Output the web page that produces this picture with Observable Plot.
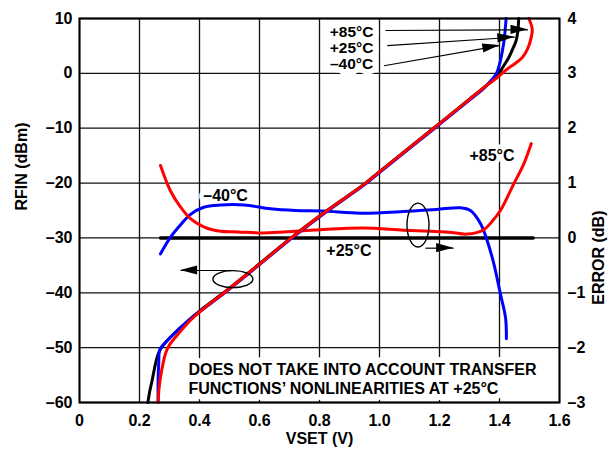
<!DOCTYPE html>
<html><head><meta charset="utf-8">
<script src="https://cdn.jsdelivr.net/npm/d3@7"></script>
<script src="https://cdn.jsdelivr.net/npm/@observablehq/plot@0.6"></script>
<style>
html,body{margin:0;padding:0;background:#fff;}
#chart svg{display:block;}
</style></head><body><div id="chart"></div>
<script>
// ---- axes / ticks ----
const vsetTicks = [0, 0.2, 0.4, 0.6, 0.8, 1.0, 1.2, 1.4, 1.6];
const rfinTicks = [-60, -50, -40, -30, -20, -10, 0, 10];
const errTicks  = [-3, -2, -1, 0, 1, 2, 3, 4];

// ---- RFIN vs VSET (left axis, dBm) ----
const vsetP25 = [0.228, 0.234, 0.242, 0.253, 0.262, 0.275, 0.303, 0.36, 0.41, 0.48, 0.6, 0.705, 0.8, 0.953, 1.0, 1.18, 1.3, 1.35, 1.38, 1.398, 1.412, 1.43, 1.442, 1.455, 1.461, 1.464];
const rfinP25 = [-60, -58, -56, -53, -51.2, -49.8, -48.1, -45.2, -42.9, -40, -34.7, -30, -26, -20, -17.9, -10, -4.7, -2.5, -1.1, 0, 1.2, 2.8, 4.2, 5.9, 7.6, 10];

const vsetM40 = [0.262, 0.262, 0.264, 0.268, 0.285, 0.303, 0.36, 0.414, 0.484, 0.604, 0.709, 0.804, 0.957, 1.004, 1.184, 1.304, 1.352, 1.372, 1.39, 1.403, 1.41, 1.416, 1.422];
const rfinM40 = [-60, -56, -53, -50.3, -49.2, -48.1, -45.2, -42.9, -40, -34.7, -30, -26, -20, -17.9, -10, -4.7, -2.5, -1.3, 0, 2.3, 4.2, 6.3, 10];

const vsetP85 = [0.262, 0.265, 0.27, 0.278, 0.287, 0.3, 0.32, 0.37, 0.42, 0.482, 0.602, 0.706, 0.801, 0.954, 1.001, 1.181, 1.301, 1.352, 1.385, 1.409, 1.426, 1.452, 1.476, 1.494, 1.506, 1.509, 1.498];
const rfinP85 = [-60, -57.5, -55.4, -53, -51, -49.5, -48.1, -45, -42.6, -40, -34.7, -30, -26, -20, -17.9, -10, -4.7, -2.4, -1.1, 0, 0.8, 1.8, 2.9, 4.5, 6.6, 8.1, 10];

// ---- ERROR vs VSET (right axis, dB) ----
const errVsetP25 = [0.27, 1.512];
const errP25     = [0, 0];

const errVsetM40 = [0.27, 0.303, 0.337, 0.37, 0.414, 0.47, 0.55, 0.637, 0.72, 0.814, 0.937, 1.08, 1.19, 1.27, 1.303, 1.337, 1.359, 1.381, 1.403, 1.42, 1.423];
const errM40     = [-0.29, 0.01, 0.24, 0.43, 0.56, 0.6, 0.6, 0.53, 0.5, 0.49, 0.45, 0.48, 0.52, 0.55, 0.5, 0.26, -0.05, -0.47, -1.02, -1.45, -1.84];

const errVsetP85 = [0.27, 0.303, 0.337, 0.37, 0.414, 0.47, 0.526, 0.614, 0.72, 0.803, 0.948, 1.08, 1.17, 1.24, 1.292, 1.348, 1.375, 1.403, 1.448, 1.481, 1.506];
const errP85     = [1.32, 0.86, 0.56, 0.35, 0.2, 0.12, 0.11, 0.09, 0.12, 0.15, 0.18, 0.14, 0.12, 0.1, 0.07, 0.15, 0.3, 0.5, 0.99, 1.35, 1.72];

// ---- annotations (data units: VSET, RFIN dBm) ----
const legendText = "+85°C\n+25°C\n–40°C";
const legendX = 0.907, legendY = 4.6;

const labelText = ["–40°C", "+85°C", "+25°C"];
const labelX    = [0.487, 1.375, 0.898];
const labelY    = [-22.33, -14.98, -32.42];

const captionText = "DOES NOT TAKE INTO ACCOUNT TRANSFER\nFUNCTIONS’ NONLINEARITIES AT +25°C";
const captionX = 0.363, captionY = -55.53;

const arrowX1 = [1.02, 1.026, 1.015, 0.513, 1.153];
const arrowY1 = [7.81, 5.07, 1.39, -35.94, -31.87];
const arrowX2 = [1.495, 1.451, 1.401, 0.337, 1.247];
const arrowY2 = [7.94, 6.59, 5.07, -35.94, -31.87];

const ellCx = [0.513, 1.13], ellCy = [-37.6, -27.74], ellRx = [0.0667, 0.0367], ellRy = [1.55, 4.0];

// ---- helpers ----
const toLeft = e => e * 10 - 30;          // dB -> dBm-scale position
const dash = v => v < 0 ? "–" + Math.abs(v) : String(v);
const zip = (xs, ys) => xs.map((x, i) => ({x, y: ys[i]}));

const labels = labelText.map((t, i) => ({t, x: labelX[i], y: labelY[i]}));
const arrows = arrowX1.map((x1, i) => ({x1, y1: arrowY1[i], x2: arrowX2[i], y2: arrowY2[i]}));

const FONT = "'Liberation Sans', Arial, Helvetica, sans-serif";
const haloOnly = {fill: "white", stroke: "white", strokeLinejoin: "round"};

const legendOpts = {x: () => legendX, y: () => legendY, text: d => d, fontSize: 15.5, lineHeight: 1.032};
const captionOpts = {x: () => captionX, y: () => captionY, text: d => d, textAnchor: "start", lineHeight: 1.19};
const labelOpts = {x: "x", y: "y", text: "t"};

const plot = Plot.plot({
  width: 612, height: 450,
  marginLeft: 79, marginRight: 53, marginTop: 18, marginBottom: 48,
  x: {domain: [0, 1.6], label: null},
  y: {domain: [-60, 10], label: null},
  style: {fontFamily: FONT, fontSize: "16px", fontWeight: "bold", color: "black", background: "white"},
  marks: [
    Plot.gridX(vsetTicks, {stroke: "#111", strokeOpacity: 1, strokeWidth: 1.3}),
    Plot.gridY(rfinTicks, {stroke: "#111", strokeOpacity: 1, strokeWidth: 1.3}),
    Plot.axisX(vsetTicks, {tickSize: 0, tickPadding: 12, label: null, tickFormat: d => d === 0 ? "0" : d.toFixed(1)}),
    Plot.axisY(rfinTicks, {anchor: "left", tickSize: 0, tickPadding: 7, label: null, tickFormat: dash}),
    Plot.axisY(errTicks.map(toLeft), {anchor: "right", tickSize: 0, tickPadding: 8, label: null, tickFormat: v => dash(Math.round((v + 30) / 10))}),
    Plot.text(["RFIN (dBm)"], {frameAnchor: "left", dx: -58, rotate: -90, text: d => d}),
    Plot.text(["ERROR (dB)"], {frameAnchor: "right", dx: 39, rotate: -90, text: d => d}),
    Plot.text(["VSET (V)"], {frameAnchor: "bottom", dy: 41, text: d => d}),
    // white backgrounds behind annotation texts (masking the grid)
    Plot.text([legendText], {...legendOpts, ...haloOnly, strokeWidth: 11}),
    Plot.text(labels, {...labelOpts, ...haloOnly, strokeWidth: 9}),
    Plot.text([captionText], {...captionOpts, ...haloOnly, strokeWidth: 12}),
    // annotation texts
    Plot.text([legendText], {...legendOpts, fill: "black"}),
    Plot.text(labels, {...labelOpts, fill: "black"}),
    Plot.text([captionText], {...captionOpts, fill: "black"}),
    // error curves
    Plot.line(zip(errVsetP25, errP25), {x: "x", y: d => toLeft(d.y), stroke: "black", strokeWidth: 3.5}),
    Plot.line(zip(errVsetM40, errM40), {x: "x", y: d => toLeft(d.y), stroke: "#0000ff", strokeWidth: 3, curve: "catmull-rom"}),
    Plot.line(zip(errVsetP85, errP85), {x: "x", y: d => toLeft(d.y), stroke: "#ff0000", strokeWidth: 3, curve: "catmull-rom"}),
    // RFIN curves
    Plot.line(zip(vsetP25, rfinP25), {x: "x", y: "y", stroke: "black", strokeWidth: 3, curve: "catmull-rom"}),
    Plot.line(zip(vsetM40, rfinM40), {x: "x", y: "y", stroke: "#0000ff", strokeWidth: 3, curve: "catmull-rom"}),
    Plot.line(zip(vsetP85, rfinP85), {x: "x", y: "y", stroke: "#ff0000", strokeWidth: 3, curve: "catmull-rom"}),
    // arrow shafts
    Plot.link(arrows, {x1: "x1", y1: "y1", x2: "x2", y2: "y2", stroke: "black", strokeWidth: 1.2}),
    Plot.frame({stroke: "black", strokeWidth: 2})
  ]
});

// filled arrowheads and ellipses, positioned through the plot's scales
const sx = plot.scale("x"), sy = plot.scale("y");
const ag = d3.select(plot).append("g");
arrows.forEach(a => {
  const bx = sx.apply(a.x1), by = sy.apply(a.y1), tx = sx.apply(a.x2), ty = sy.apply(a.y2);
  const len = Math.hypot(tx - bx, ty - by), ux = (tx - bx) / len, uy = (ty - by) / len;
  const L = 17, W = 4.6;
  const pts = [[tx, ty], [tx - L * ux - W * uy, ty - L * uy + W * ux], [tx - L * ux + W * uy, ty - L * uy - W * ux]];
  ag.append("polygon").attr("points", pts.map(p => p.join(",")).join(" ")).attr("fill", "black");
});
ellCx.forEach((cx, i) => {
  const px = sx.apply(cx), py = sy.apply(ellCy[i]);
  ag.append("ellipse")
    .attr("cx", px).attr("cy", py)
    .attr("rx", Math.abs(sx.apply(cx + ellRx[i]) - px))
    .attr("ry", Math.abs(sy.apply(ellCy[i] + ellRy[i]) - py))
    .attr("fill", "none").attr("stroke", "black").attr("stroke-width", 1.4);
});

document.getElementById("chart").appendChild(plot);
</script>
</body></html>
